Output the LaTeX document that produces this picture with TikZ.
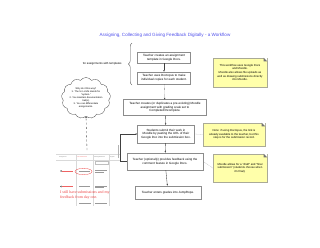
\documentclass[tikz,border=0pt]{standalone}
\usepackage{fontspec}
\setmainfont{Liberation Sans}
\newfontfamily\redserif{Liberation Serif}
\usetikzlibrary{arrows.meta}
\usetikzlibrary{shapes.symbols}
\usetikzlibrary{decorations.pathreplacing}
\usetikzlibrary{shadows}

\definecolor{titleblue}{RGB}{80,80,235}
\definecolor{notefill}{RGB}{255,255,170}
\definecolor{noteline}{RGB}{170,170,150}
\definecolor{redtext}{RGB}{235,60,60}

\tikzset{
    flowbox/.style={draw=black!45, line width=0.6pt, align=center, inner sep=0pt,
        font=\fontsize{4.3}{5.2}\selectfont},
    notebox/.style={draw=noteline, fill=notefill, line width=0.5pt, align=center, inner sep=0pt,
        font=\fontsize{4}{5}\selectfont,
        drop shadow={shadow xshift=0.5pt, shadow yshift=-0.5pt, fill=black!35, opacity=0.6}},
    flowarrow/.style={-{Latex[length=2.2pt,width=2.2pt]}, line width=0.5pt, black!75},
    tinytext/.style={font=\fontsize{2}{2.4}\selectfont, text=black!55, inner sep=0pt}
}

\begin{document}
\begin{tikzpicture}[x=0.05cm, y=-0.05cm]
\useasboundingbox (0,0) rectangle (320,247);

% title
\node[text=titleblue, font=\fontsize{6.5}{7.5}\selectfont] (title) at (165,35)
    {Assigning, Collecting and Giving Feedback Digitally - a Workflow};

% main steps
\node[flowbox, minimum width=2.65cm, minimum height=0.55cm] (create) at (164,57.5)
    {Teacher creates an assignment\\template in Google Docs.};
\node[flowbox, minimum width=2.65cm, minimum height=0.6cm] (copies) at (164,78)
    {Teacher uses Doctopus to make\\individual copies for each student.};
\node[flowbox, minimum width=4.15cm, minimum height=0.78cm] (moodle) at (165,107.5)
    {Teacher creates (or duplicates a pre-existing) Moodle\\assignment with grading scale set to\\Completed/Incomplete.};
\node[flowbox, minimum width=2.85cm, minimum height=0.88cm] (submit) at (166,134)
    {Students submit their work in\\Moodle by pasting the URL of their\\Google Doc into the submission box.};
\node[flowbox, minimum width=3.8cm, minimum height=0.85cm] (feedback) at (165,161.5)
    {Teacher (optionally) provides feedback using the\\comment feature in Google Docs.};
\node[flowbox, minimum width=3.3cm, minimum height=0.65cm] (grades) at (168,192.5)
    {Teacher enters grades into JumpRope.};

\draw[flowarrow] (create) -- (copies);
\draw[flowarrow, densely dotted] (copies) -- (moodle);
\draw[flowarrow] (moodle) -- (submit);
\draw[flowarrow] (submit) -- (feedback);
\draw[flowarrow] (feedback) -- (grades);
\draw[flowarrow] (feedback.west) -- ++(-7,0) |- (submit.west);

% brace for the template steps
\draw[decorate, decoration={brace, amplitude=5pt}, black!70, line width=0.5pt] (132,85) -- (132,43);
\node[anchor=east, font=\fontsize{4}{5}\selectfont] (templates) at (124,64)
    {for assignments with templates};

% notes
\node[notebox, minimum width=2.7cm, minimum height=1.45cm] (note1) at (240,72.5)
    {This workflow uses Google Docs\\and Moodle.\\Moodle also allows file uploads as\\well as drawing submissions directly\\into Moodle.};
\node[notebox, minimum width=3.1cm, minimum height=1.15cm] (note2) at (234,134.5)
    {Note: if using Doctopus, the link is\\already available to the teacher, but this\\step is for the submission record.};
\node[notebox, minimum width=2.7cm, minimum height=1.4cm] (note3) at (240,168)
    {Moodle allows for a ``draft'' and ``final\\submission'' (students choose when\\it's final).};

\foreach \n in {note1,note2,note3} {
    \fill[white] (\n.north east) -- ++(-3.5,0) -- ++(3.5,3.5) -- cycle;
    \fill[black!55] (\n.north east) ++(-3.5,0) -- ++(3.5,3.5) -- ++(-3.5,0) -- cycle;
}

\draw[black!50, densely dotted] (note2.west) -- (submit.east);
\draw[black!50, densely dotted] (note3.west) -- (feedback.east);

% cloud
\node[cloud, draw=black!80, line width=0.4pt, cloud puffs=13, cloud puff arc=110,
      minimum width=2.45cm, minimum height=2.05cm] (why) at (86,98) {};
\node[align=center, font=\fontsize{3.4}{4.3}\selectfont, inner sep=0pt] (whytext) at (86,98)
    {Why do it this way?\\1. The S in LMS stands for\\``system.''\\2. You maintain documentation\\trail(s).\\3. You can differentiate\\assignments.};

% gradebook snapshot
\node[tinytext, anchor=west] (colA) at (59,157) {Assignment};
\node[tinytext, anchor=west, text=redtext!80] (colB) at (77,157) {Last submission};
\node[tinytext, anchor=west] (colC) at (93.5,157) {Grading/feedback};
\node[tinytext, anchor=west] (colD) at (109.5,157) {Original};
\draw[black!15, line width=0.3pt] (56,154) -- (120,154);
\draw[black!15, line width=0.3pt] (56,160) -- (120,160);
\foreach \x in {76,93,109} {
    \draw[black!15, line width=0.3pt] (\x,154) -- (\x,206);
}
\draw[black!30, line width=0.3pt] (118,145) -- (118,158);
\draw[black!25, line width=0.3pt] (95,161.5) rectangle (108,164);
\foreach \y in {171,186.5} {
    \fill[black!70] (61,\y) ++(-1,0) -- ++(1.5,-0.8) -- ++(0,1.6) -- cycle;
    \draw[redtext!80, line width=0.3pt] (62,\y) -- (73,\y);
    \draw[black!40, line width=0.4pt] (79,\y) -- (90,\y);
    \draw[black!40, line width=0.4pt] (95,\y-0.8) -- (107,\y-0.8);
    \draw[black!40, line width=0.4pt] (95,\y+0.8) -- (104,\y+0.8);
}
\draw[black!40, line width=0.4pt] (79,203) -- (91,203);
\draw[black!40, line width=0.4pt] (95,203) -- (107,203);
\draw[redtext, line width=0.4pt] (83.5,171.5) ellipse (8.5 and 3.2);

\node[anchor=north west, align=left, text=redtext, inner sep=0pt,
      font=\redserif\fontsize{5.6}{6.6}\selectfont] (daynote) at (60,190.5)
    {I still have submissions and my\\feedback from day one.};

\draw[flowarrow, dashed] (87,150) -- (why.south);

\end{tikzpicture}
\end{document}
